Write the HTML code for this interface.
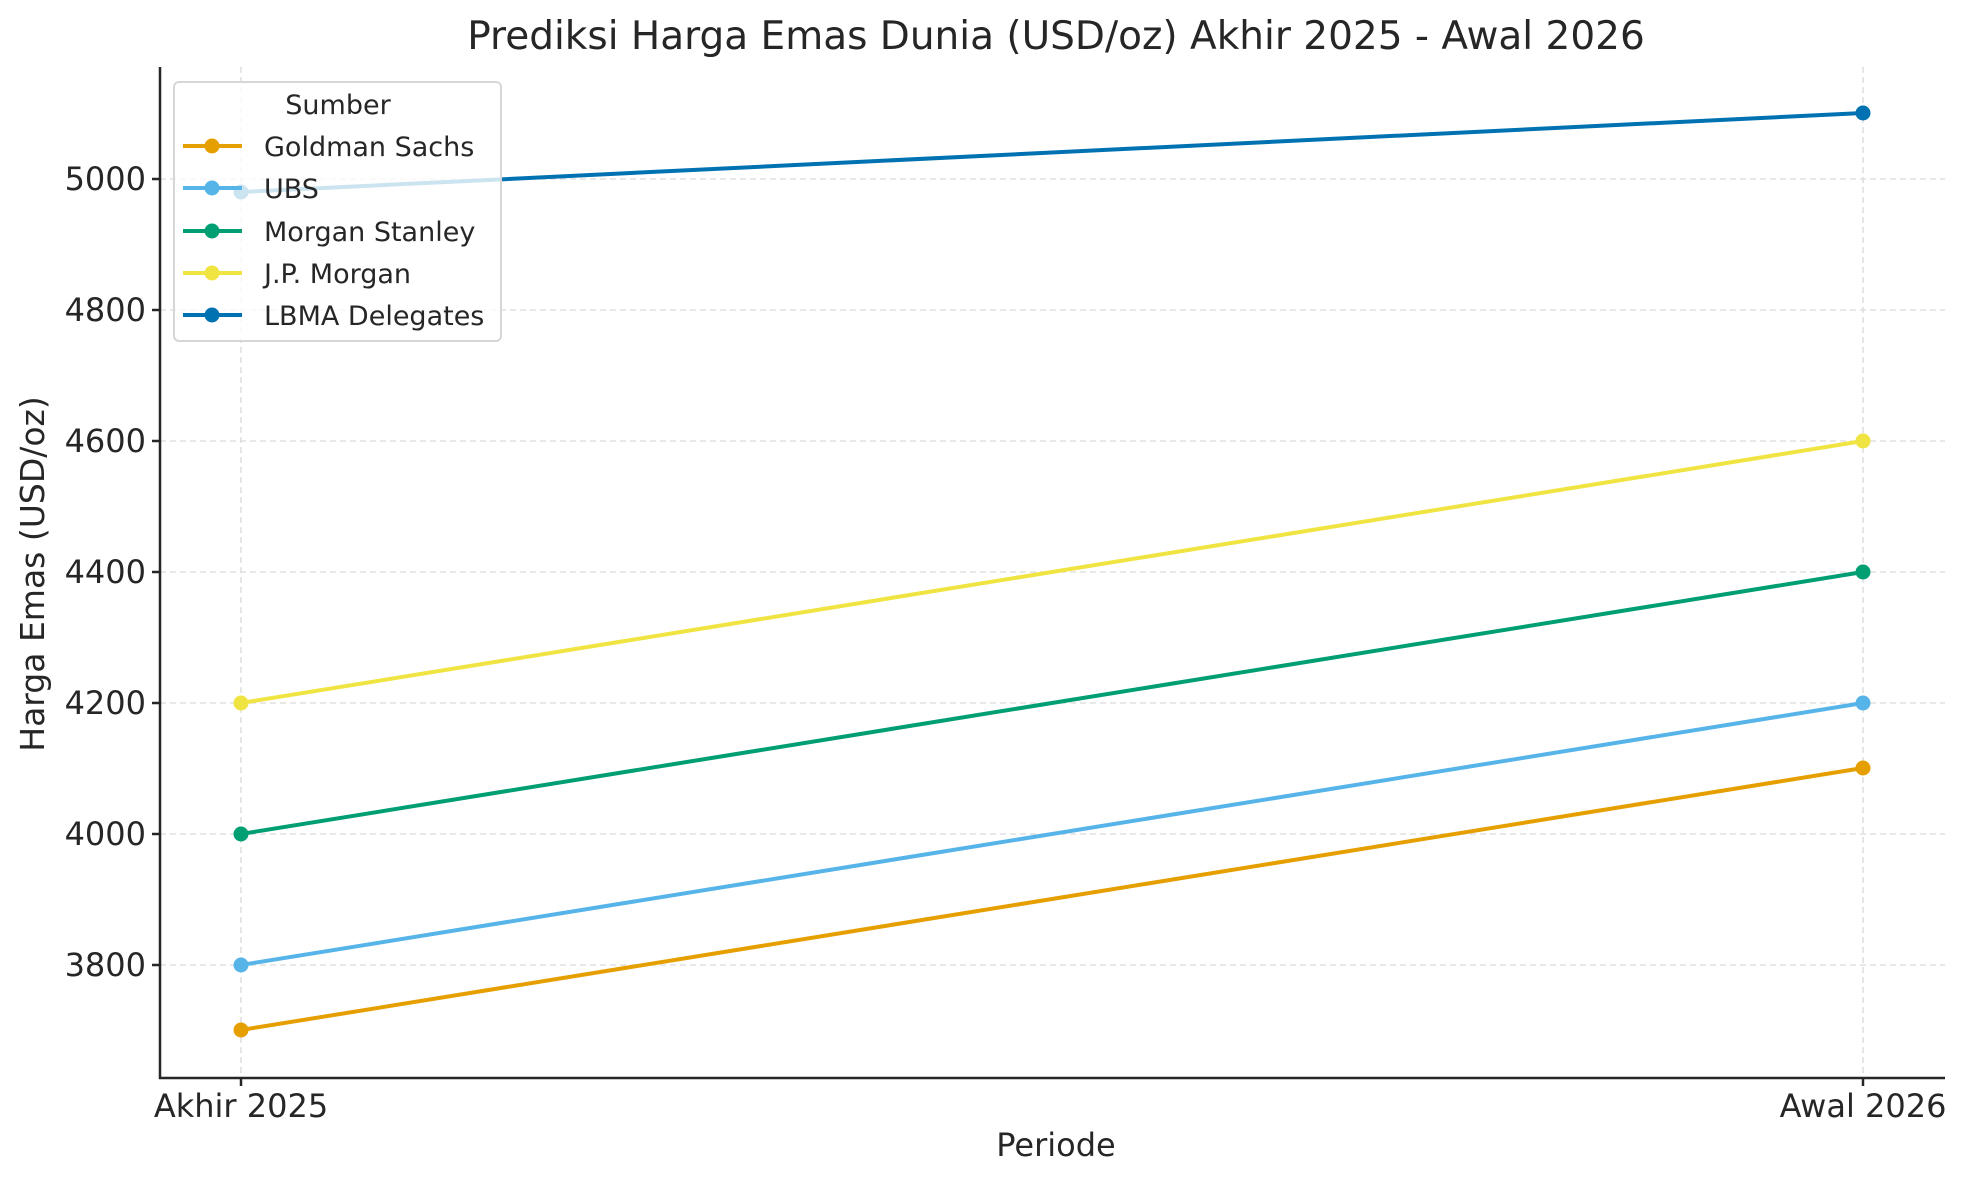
<!DOCTYPE html>
<html><head><meta charset="utf-8"><style>body{margin:0;background:#fff}svg{display:block}text{font-family:"DejaVu Sans","Liberation Sans",sans-serif;fill:#262626}</style></head>
<body>
<svg width="1969" height="1180" viewBox="0 0 1969 1180" xmlns="http://www.w3.org/2000/svg">
<rect width="1969" height="1180" fill="#fff"/>
<g stroke="#d9d9d9" stroke-width="1.3" stroke-dasharray="6,4">
<line x1="160" x2="1945" y1="179" y2="179"/><line x1="160" x2="1945" y1="310" y2="310"/><line x1="160" x2="1945" y1="441" y2="441"/><line x1="160" x2="1945" y1="572" y2="572"/><line x1="160" x2="1945" y1="703" y2="703"/><line x1="160" x2="1945" y1="834" y2="834"/><line x1="160" x2="1945" y1="965" y2="965"/>
<line x1="241" x2="241" y1="67" y2="1078"/><line x1="1863" x2="1863" y1="67" y2="1078"/>
</g>
<g stroke-width="4" fill="none">
<line x1="241" y1="1030" x2="1863" y2="768" stroke="#e69f00"/>
<line x1="241" y1="965" x2="1863" y2="703" stroke="#56b4e9"/>
<line x1="241" y1="834" x2="1863" y2="572" stroke="#009e73"/>
<line x1="241" y1="703" x2="1863" y2="441" stroke="#f0e442"/>
<line x1="241" y1="192" x2="1863" y2="113" stroke="#0072b2"/>
</g>
<g>
<circle cx="241" cy="1030" r="7.5" fill="#e69f00"/><circle cx="1863" cy="768" r="7.5" fill="#e69f00"/>
<circle cx="241" cy="965" r="7.5" fill="#56b4e9"/><circle cx="1863" cy="703" r="7.5" fill="#56b4e9"/>
<circle cx="241" cy="834" r="7.5" fill="#009e73"/><circle cx="1863" cy="572" r="7.5" fill="#009e73"/>
<circle cx="241" cy="703" r="7.5" fill="#f0e442"/><circle cx="1863" cy="441" r="7.5" fill="#f0e442"/>
<circle cx="241" cy="192" r="7.5" fill="#0072b2"/><circle cx="1863" cy="113" r="7.5" fill="#0072b2"/>
</g>
<g stroke="#262626" stroke-width="2.5">
<line x1="160" y1="67" x2="160" y2="1079"/><line x1="159" y1="1078" x2="1945" y2="1078"/>
<line x1="152" x2="160" y1="179" y2="179"/><line x1="152" x2="160" y1="310" y2="310"/><line x1="152" x2="160" y1="441" y2="441"/><line x1="152" x2="160" y1="572" y2="572"/><line x1="152" x2="160" y1="703" y2="703"/><line x1="152" x2="160" y1="834" y2="834"/><line x1="152" x2="160" y1="965" y2="965"/>
<line x1="241" x2="241" y1="1078" y2="1086"/><line x1="1863" x2="1863" y1="1078" y2="1086"/>
</g>
<g font-size="32" text-anchor="end">
<text x="146" y="190">5000</text><text x="146" y="321">4800</text><text x="146" y="452">4600</text><text x="146" y="583">4400</text><text x="146" y="714">4200</text><text x="146" y="845">4000</text><text x="146" y="976">3800</text>
</g>
<g font-size="32" text-anchor="middle">
<text x="241" y="1117">Akhir 2025</text><text x="1863" y="1117">Awal 2026</text>
<text x="1056" y="1156">Periode</text>
<text transform="translate(44,574) rotate(-90)" font-size="33">Harga Emas (USD/oz)</text>
<text x="1056" y="49" font-size="39">Prediksi Harga Emas Dunia (USD/oz) Akhir 2025 - Awal 2026</text>
</g>
<rect x="174" y="82" width="327" height="259" rx="5" fill="#fff" fill-opacity="0.8" stroke="#d6d6d6" stroke-width="2"/>
<g font-size="27">
<text x="338" y="114" text-anchor="middle">Sumber</text>
<text x="264" y="156">Goldman Sachs</text><text x="264" y="198">UBS</text><text x="264" y="241">Morgan Stanley</text><text x="264" y="283">J.P. Morgan</text><text x="264" y="325">LBMA Delegates</text>
</g>
<g stroke-width="4">
<line x1="183" x2="242" y1="146" y2="146" stroke="#e69f00"/><line x1="183" x2="242" y1="188" y2="188" stroke="#56b4e9"/><line x1="183" x2="242" y1="231" y2="231" stroke="#009e73"/><line x1="183" x2="242" y1="273" y2="273" stroke="#f0e442"/><line x1="183" x2="242" y1="315" y2="315" stroke="#0072b2"/>
</g>
<circle cx="212" cy="146" r="7.5" fill="#e69f00"/><circle cx="212" cy="188" r="7.5" fill="#56b4e9"/><circle cx="212" cy="231" r="7.5" fill="#009e73"/><circle cx="212" cy="273" r="7.5" fill="#f0e442"/><circle cx="212" cy="315" r="7.5" fill="#0072b2"/>
</svg>
</body></html>
